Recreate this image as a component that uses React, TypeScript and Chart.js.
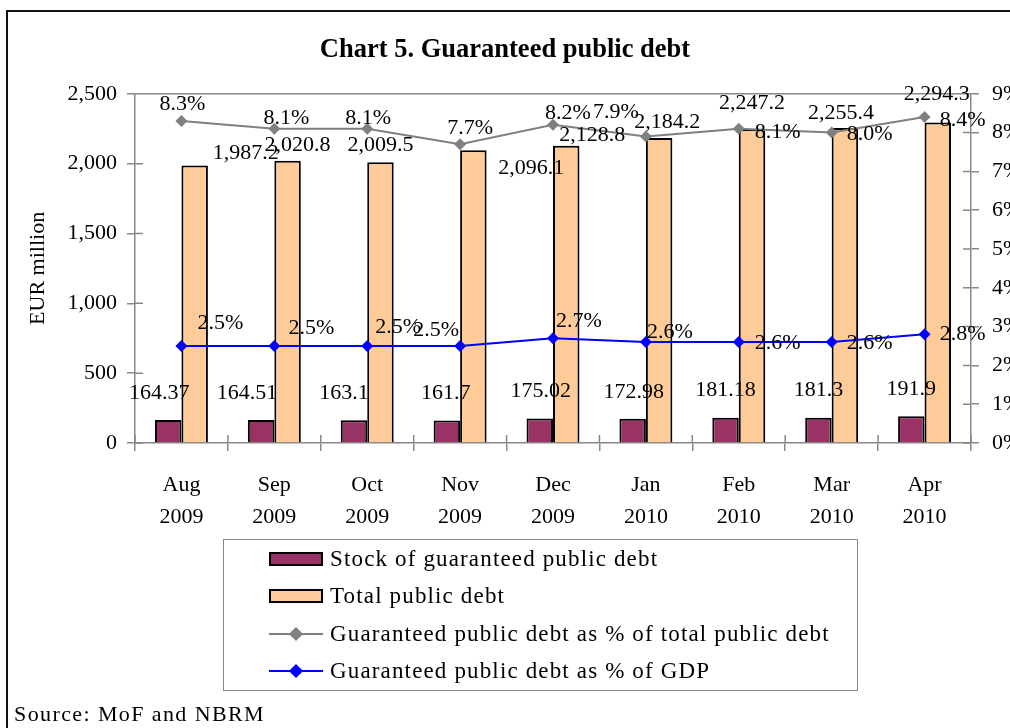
import React, { useEffect, useRef } from 'react';
import { Chart, registerables } from 'chart.js';

Chart.register(...registerables);

// ---- data ----
const categories: string[][] = [
  ['Aug', '2009'], ['Sep', '2009'], ['Oct', '2009'], ['Nov', '2009'], ['Dec', '2009'],
  ['Jan', '2010'], ['Feb', '2010'], ['Mar', '2010'], ['Apr', '2010'],
];
const guaranteedStock = [164.37, 164.51, 163.1, 161.7, 175.02, 172.98, 181.18, 181.3, 191.9];
const totalDebt = [1987.2, 2020.8, 2009.5, 2096.1, 2128.8, 2184.2, 2247.2, 2255.4, 2294.3];
const pctOfTotal = [8.3, 8.1, 8.1, 7.7, 8.2, 7.9, 8.1, 8.0, 8.4];
const pctOfGdp = [2.5, 2.5, 2.5, 2.5, 2.7, 2.6, 2.6, 2.6, 2.8];
const leftTicks = [0, 500, 1000, 1500, 2000, 2500];
const rightTicks = [0, 1, 2, 3, 4, 5, 6, 7, 8, 9];

const seriesNames = [
  'Stock of guaranteed public debt',
  'Total public debt',
  'Guaranteed public debt as % of total public debt',
  'Guaranteed public debt as % of GDP',
];

// ---- label nudges (style only) ----
const stockLabelOffsets = [[-9, -27], [-14, -27], [-10, -27], [-1, -27], [1, -27], [1, -27], [0, -27], [0, -27], [0, -27]];
const totalLabelOffsets = [[51, -12], [10, -16], [0, -17], [58, 18], [26, -10], [8, -16], [0, -26], [-4, -15], [-1, -28]];
const pctTotalLabelOffsets = [[1, -17], [12, -11], [1, -11], [10, -16], [15, -12], [-30, -24], [39, 3], [38, 2], [38, 3]];
const pctGdpLabelOffsets = [[39, -23], [37, -18], [31, -19], [-24, -16], [26, -17], [24, -10], [39, 1], [38, 1], [38, 0]];

const FONT = "'Liberation Serif', serif";
const AXIS_GRAY = '#888888';
const PURPLE = '#993366';
const PEACH = '#FFCC99';
const GRAY_LINE = '#808080';
const BLUE = '#0000FF';

const fmtStock = (v: number) => String(v);
const fmtTotal = (v: number) => v.toLocaleString('en-US', { minimumFractionDigits: 1, maximumFractionDigits: 1 });
const fmtPct = (v: number) => v.toFixed(1) + '%';

const labelPlugin = {
  id: 'dataLabels',
  afterDatasetsDraw(chart: any) {
    const ctx = chart.ctx;
    ctx.save();
    ctx.font = `22px ${FONT}`;
    ctx.fillStyle = '#000';
    ctx.textAlign = 'center';
    ctx.textBaseline = 'middle';
    chart.data.datasets.forEach((ds: any, i: number) => {
      const meta = chart.getDatasetMeta(i);
      const offs = ds.labelOffsets as number[][];
      const fmt = ds.labelFormat as (v: number) => string;
      meta.data.forEach((el: any, j: number) => {
        const { x, y } = el.getProps(['x', 'y'], true);
        const [dx, dy] = offs[j];
        ctx.fillText(fmt(ds.data[j]), x + dx, y + dy);
      });
    });
    ctx.restore();
  },
};

const axisDecorPlugin = {
  id: 'axisDecor',
  beforeDatasetsDraw(chart: any) {
    const { ctx, chartArea } = chart;
    const { left, right, top, bottom } = chartArea;
    ctx.save();
    ctx.strokeStyle = AXIS_GRAY;
    ctx.lineWidth = 1.5;
    ctx.beginPath();
    // top border of plot area
    ctx.moveTo(left, top);
    ctx.lineTo(right, top);
    // inner halves of the crossing tick marks
    const yL = chart.scales.y;
    yL.ticks.forEach((_t: any, i: number) => {
      const p = yL.getPixelForTick(i);
      ctx.moveTo(left, p);
      ctx.lineTo(left + 8, p);
    });
    const yR = chart.scales.y1;
    yR.ticks.forEach((_t: any, i: number) => {
      const p = yR.getPixelForTick(i);
      ctx.moveTo(right, p);
      ctx.lineTo(right - 8, p);
    });
    const xs = chart.scales.x;
    const n = xs.ticks.length;
    const w = (right - left) / n;
    for (let i = 0; i <= n; i++) {
      const p = left + i * w;
      ctx.moveTo(p, bottom);
      ctx.lineTo(p, bottom - 8);
    }
    ctx.stroke();
    ctx.restore();
  },
};

function LegendMarker({ kind, color }: { kind: 'bar' | 'line'; color: string }) {
  if (kind === 'bar') {
    return (
      <div style={{ position: 'absolute', left: 0, top: -7, width: 54, height: 14, background: color, border: '2px solid #000', boxSizing: 'border-box' }} />
    );
  }
  return (
    <>
      <div style={{ position: 'absolute', left: 0, top: -1, width: 54, height: 2, background: color }} />
      <div style={{ position: 'absolute', left: 27 - 5, top: -5, width: 10, height: 10, background: color, transform: 'rotate(45deg)' }} />
    </>
  );
}

export default function App() {
  const canvasRef = useRef<HTMLCanvasElement | null>(null);

  useEffect(() => {
    const canvas = canvasRef.current;
    if (!canvas) return;
    const tickFont = { family: FONT, size: 22 };
    const chart = new Chart(canvas, {
      type: 'bar',
      data: {
        labels: categories,
        datasets: [
          {
            type: 'bar',
            label: seriesNames[0],
            data: guaranteedStock,
            backgroundColor: PURPLE,
            borderColor: '#000',
            borderWidth: 2,
            yAxisID: 'y',
            order: 1,
            labelOffsets: stockLabelOffsets,
            labelFormat: fmtStock,
          } as any,
          {
            type: 'bar',
            label: seriesNames[1],
            data: totalDebt,
            backgroundColor: PEACH,
            borderColor: '#000',
            borderWidth: 2,
            yAxisID: 'y',
            order: 1,
            labelOffsets: totalLabelOffsets,
            labelFormat: fmtTotal,
          } as any,
          {
            type: 'line',
            label: seriesNames[2],
            data: pctOfTotal,
            borderColor: GRAY_LINE,
            backgroundColor: GRAY_LINE,
            borderWidth: 2,
            pointStyle: 'rectRot',
            pointRadius: 6,
            pointBorderWidth: 0,
            yAxisID: 'y1',
            order: 0,
            tension: 0,
            labelOffsets: pctTotalLabelOffsets,
            labelFormat: fmtPct,
          } as any,
          {
            type: 'line',
            label: seriesNames[3],
            data: pctOfGdp,
            borderColor: BLUE,
            backgroundColor: BLUE,
            borderWidth: 2,
            pointStyle: 'rectRot',
            pointRadius: 6,
            pointBorderWidth: 0,
            yAxisID: 'y1',
            order: 0,
            tension: 0,
            labelOffsets: pctGdpLabelOffsets,
            labelFormat: fmtPct,
          } as any,
        ],
      },
      options: {
        responsive: false,
        maintainAspectRatio: false,
        animation: false,
        devicePixelRatio: 1,
        layout: { padding: { left: 0, top: 34, right: 0, bottom: 195 } },
        datasets: {
          bar: { categoryPercentage: 0.57, barPercentage: 1 },
        },
        plugins: {
          legend: { display: false },
          tooltip: { enabled: false },
          title: {
            display: true,
            text: 'Chart 5. Guaranteed public debt',
            color: '#000',
            font: { family: FONT, size: 26.5, weight: 'bold' },
            padding: { top: 0, bottom: 28 },
          },
        },
        scales: {
          x: {
            type: 'category',
            offset: true,
            grid: { display: true, drawOnChartArea: false, drawTicks: true, tickLength: 8, color: AXIS_GRAY, lineWidth: 1.5, offset: true },
            border: { display: true, color: AXIS_GRAY, width: 1.5 },
            ticks: { font: { ...tickFont, lineHeight: 1.42 }, color: '#000', padding: 19, maxRotation: 0, autoSkip: false },
            afterFit: (s: any) => { s.height = 90; },
          },
          y: {
            position: 'left',
            min: 0,
            max: 2500,
            afterBuildTicks: (s: any) => { s.ticks = leftTicks.map((v) => ({ value: v })); },
            ticks: { font: tickFont, color: '#000', padding: 10, callback: (v: any) => Number(v).toLocaleString('en-US') },
            grid: { drawOnChartArea: false, drawTicks: true, tickLength: 8, color: AXIS_GRAY, lineWidth: 1.5 },
            border: { display: true, color: AXIS_GRAY, width: 1.5 },
            title: { display: true, text: 'EUR million', color: '#000', font: tickFont, padding: { top: 25, bottom: 0 } },
            afterFit: (s: any) => { s.width = 135; },
          },
          y1: {
            position: 'right',
            min: 0,
            max: 9,
            afterBuildTicks: (s: any) => { s.ticks = rightTicks.map((v) => ({ value: v })); },
            ticks: { font: tickFont, color: '#000', padding: 13, callback: (v: any) => `${v}%` },
            grid: { drawOnChartArea: false, drawTicks: true, tickLength: 8, color: AXIS_GRAY, lineWidth: 1.5 },
            border: { display: true, color: AXIS_GRAY, width: 1.5 },
            afterFit: (s: any) => { s.width = 39; },
          },
        },
      } as any,
      plugins: [axisDecorPlugin, labelPlugin],
    });
    return () => chart.destroy();
  }, []);

  const legendRows: { kind: 'bar' | 'line'; color: string; text: string; y: number }[] = [
    { kind: 'bar', color: PURPLE, text: seriesNames[0], y: 20 },
    { kind: 'bar', color: PEACH, text: seriesNames[1], y: 57 },
    { kind: 'line', color: GRAY_LINE, text: seriesNames[2], y: 95 },
    { kind: 'line', color: BLUE, text: seriesNames[3], y: 132 },
  ];

  return (
    <div style={{ position: 'absolute', left: 0, top: 0, width: 1010, height: 728, overflow: 'hidden', background: '#fff' }}>
      <div style={{ position: 'absolute', left: 6, top: 10, width: 1200, height: 900, borderLeft: '2px solid #111', borderTop: '2px solid #111' }} />
      <canvas ref={canvasRef} width={1010} height={728} style={{ position: 'absolute', left: 0, top: 0, width: 1010, height: 728 }} />
      <div style={{ position: 'absolute', left: 223, top: 539, width: 635, height: 152, border: '1px solid #888', boxSizing: 'border-box' }}>
        {legendRows.map((r) => (
          <div key={r.text} style={{ position: 'absolute', left: 45, top: r.y - 1 }}>
            <LegendMarker kind={r.kind} color={r.color} />
            <div style={{ position: 'absolute', left: 61, top: -14, whiteSpace: 'nowrap', font: `23px ${FONT}`, lineHeight: '28px', letterSpacing: '1.15px', color: '#000' }}>{r.text}</div>
          </div>
        ))}
      </div>
      <div style={{ position: 'absolute', left: 14, top: 701, whiteSpace: 'nowrap', font: `22px ${FONT}`, lineHeight: '26px', letterSpacing: '1.4px', color: '#000' }}>Source: MoF and NBRM</div>
    </div>
  );
}
